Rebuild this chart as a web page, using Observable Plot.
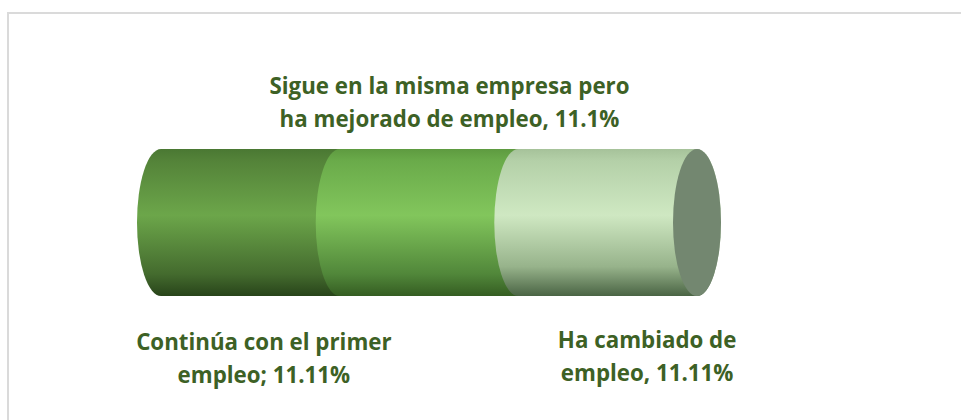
<!DOCTYPE html>
<html>
<head>
<meta charset="utf-8">
<script src="https://cdn.jsdelivr.net/npm/d3@7"></script>
<script src="https://cdn.jsdelivr.net/npm/@observablehq/plot@0.6"></script>
<style>
  html, body { margin: 0; padding: 0; background: #ffffff; }
  #wrap { position: relative; width: 961px; height: 420px; overflow: hidden; }
  #frame { position: absolute; left: 7px; top: 12px; width: 1000px; height: 500px;
           border-top: 2px solid #dadada; border-left: 2px solid #dadada; box-sizing: border-box; }
  #chart { position: absolute; left: 0; top: 0; }
</style>
</head>
<body>
<div id="wrap"><div id="frame"></div><div id="chart"></div></div>
<script>
// Data
const categories = [
  "Continúa con el primer empleo",
  "Sigue en la misma empresa pero ha mejorado de empleo",
  "Ha cambiado de empleo"
];
const values = [11.11, 11.1, 11.11];
const labels = [
  ["Continúa con el primer", "empleo; 11.11%"],
  ["Sigue en la misma empresa pero", "ha mejorado de empleo, 11.1%"],
  ["Ha cambiado de", "empleo, 11.11%"]
];
const gradientIds = ["seg0", "seg1", "seg2"];

const data = categories.map((c, i) => ({category: c, value: values[i], grad: `url(#${gradientIds[i]})`, order: i}));
let acc = 0;
for (const d of data) { d.x1 = acc; acc += d.value; d.x2 = acc; d.mid = (d.x1 + d.x2) / 2; }
const total = acc;

const stops = {
  seg0: [["0%", "#4a7833"], ["8%", "#548339"], ["45%", "#6ca64a"], ["85%", "#446b2e"], ["100%", "#28441a"]],
  seg1: [["0%", "#5e9a40"], ["8%", "#6aab4a"], ["45%", "#82c65c"], ["85%", "#51873a"], ["100%", "#355d22"]],
  seg2: [["0%", "#a6c29a"], ["8%", "#b4d0a8"], ["45%", "#cfe8c2"], ["80%", "#97b38b"], ["100%", "#4a6444"]]
};

const defs = () => {
  const g = d3.create("svg:defs");
  for (const id of gradientIds) {
    const lg = g.append("linearGradient").attr("id", id).attr("x1", 0).attr("y1", 0).attr("x2", 0).attr("y2", 1);
    for (const [o, c] of stops[id]) lg.append("stop").attr("offset", o).attr("stop-color", c);
  }
  return g.node();
};

const RX = 24, RY = 73.5;
const labelColor = "#3d6125";
const font = "'Open Sans', 'Noto Sans', sans-serif";

const textMark = (lines, i, dx, dy) => Plot.text([data[i]], {
  x: "mid",
  frameAnchor: "top",
  text: () => lines.join("\n"),
  lineHeight: 1.45,
  dx, dy,
  fill: labelColor,
  fontSize: 22.3,
  fontWeight: "bold",
  fontFamily: font,
  textAnchor: "middle",
  lineAnchor: "top"
});

const chart = Plot.plot({
  width: 961,
  height: 420,
  marginLeft: 161,
  marginRight: 264,
  marginTop: 149,
  marginBottom: 124,
  x: {domain: [0, total], axis: null},
  y: {domain: [0, 1], axis: null},
  color: {type: "identity"},
  style: {background: "transparent"},
  marks: [
    defs,
    ...data.map(d => Plot.rect([d], {
      x1: "x1", x2: "x2", y1: 0, y2: 1,
      fill: "grad",
      rx: RX, ry: RY,
      insetLeft: -RX, insetRight: -RX
    })),
    Plot.rect([data[data.length - 1]], {
      x1: "x2", x2: "x2", y1: 0, y2: 1,
      fill: "#738770",
      rx: RX, ry: RY,
      insetLeft: -RX, insetRight: -RX
    }),
    textMark(labels[0], 0, 13, 178),
    textMark(labels[1], 1, 20, -78),
    textMark(labels[2], 2, 39, 176)
  ]
});
document.getElementById("chart").appendChild(chart);
</script>
</body>
</html>
